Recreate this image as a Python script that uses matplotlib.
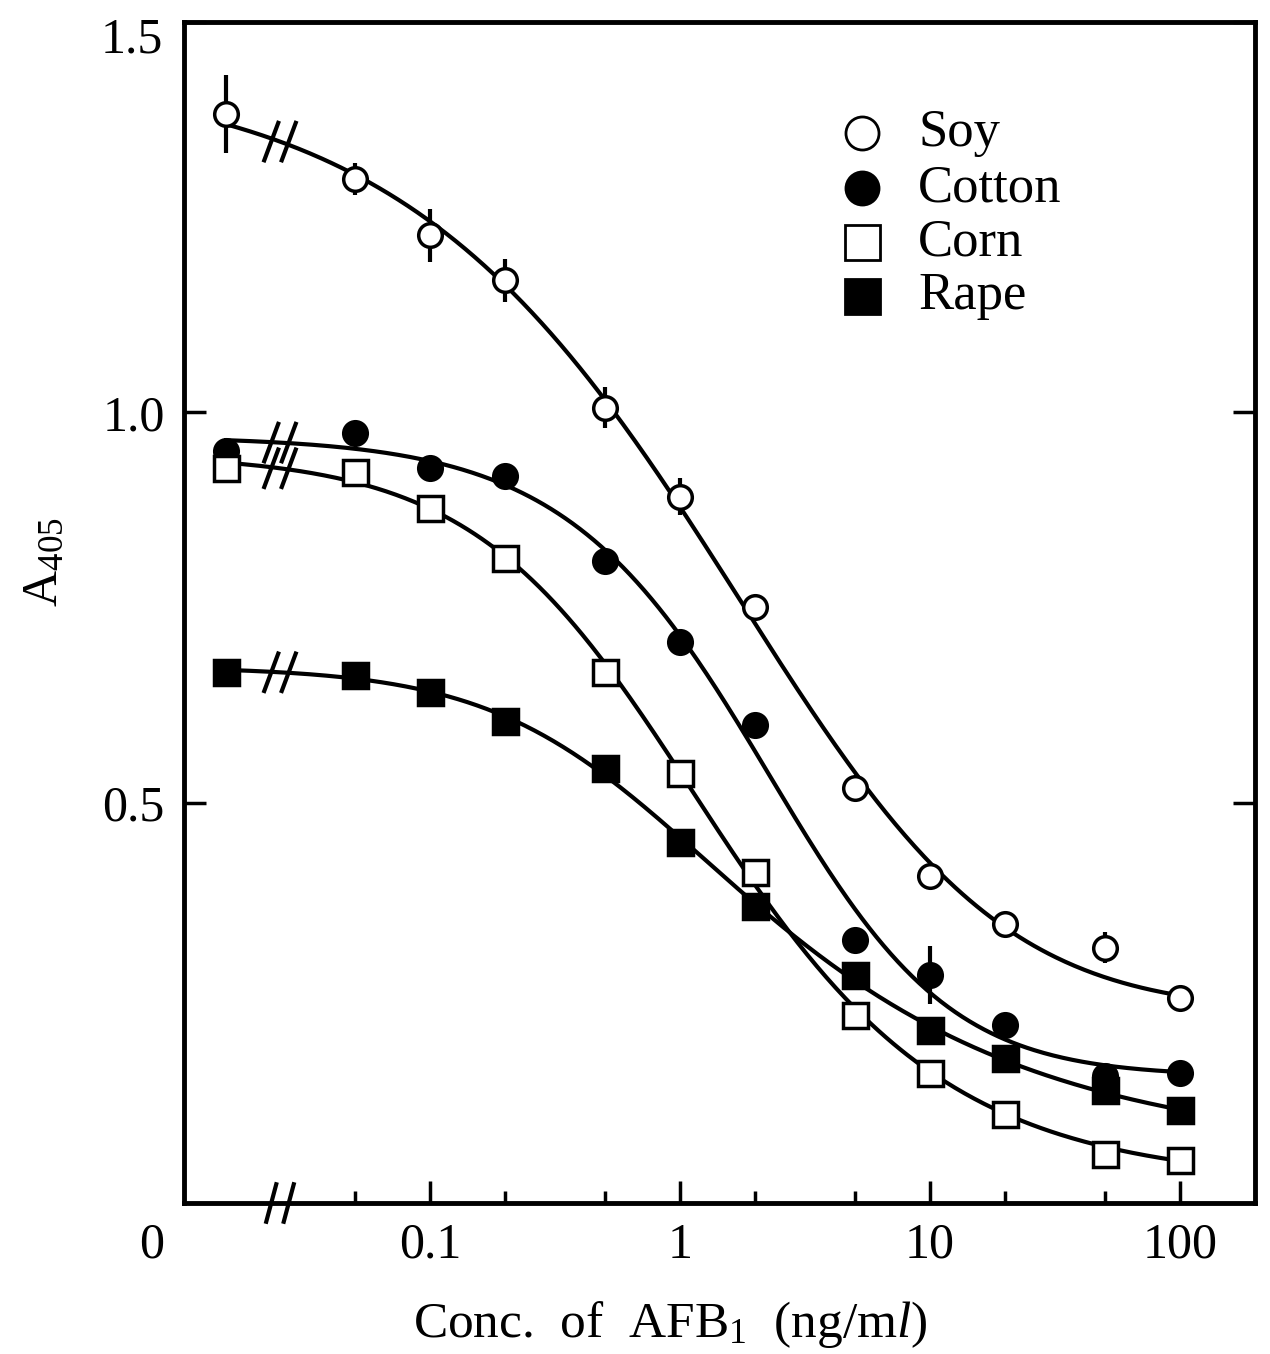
import numpy as np
import matplotlib
matplotlib.use("Agg")
import matplotlib.pyplot as plt

plt.rcParams['font.family'] = ['Liberation Serif', 'DejaVu Serif']
plt.rcParams['mathtext.fontset'] = 'custom'
plt.rcParams['mathtext.rm'] = 'Liberation Serif'
plt.rcParams['mathtext.it'] = 'Liberation Serif:italic'

# concentrations of AFB1 (ng/ml); 0 is drawn left of the axis break
conc = [0, 0.05, 0.1, 0.2, 0.5, 1, 2, 5, 10, 20, 50, 100]

soy = [1.382, 1.299, 1.227, 1.169, 1.006, 0.892, 0.750, 0.519, 0.406, 0.344, 0.314, 0.250]
soy_err = [0.05, 0.02, 0.034, 0.028, 0.026, 0.024, 0.015, 0, 0, 0, 0.02, 0]
cotton = [0.950, 0.973, 0.928, 0.919, 0.809, 0.706, 0.599, 0.324, 0.279, 0.215, 0.150, 0.154]
cotton_err = [0, 0, 0, 0, 0, 0, 0, 0, 0.037, 0, 0.012, 0]
corn = [0.928, 0.924, 0.877, 0.813, 0.667, 0.538, 0.411, 0.228, 0.154, 0.101, 0.050, 0.042]
corn_err = [0] * 12
rape = [0.667, 0.663, 0.642, 0.605, 0.544, 0.449, 0.368, 0.279, 0.208, 0.173, 0.132, 0.106]
rape_err = [0, 0, 0, 0, 0, 0, 0, 0, 0, 0, 0.015, 0]

ZERO_POS = -1.816   # where the "0" dose sits on the log axis
BREAK_POS = -1.6

lx = np.array([np.log10(c) if c > 0 else ZERO_POS for c in conc])


def fit_5pl(x, y, w):
    # y = d + (a-d) / (1 + exp(b(x-c)))**g ; grid over b,c,g, a/d by weighted least squares
    best = None
    for g in np.linspace(0.3, 3.0, 28):
        for b in np.linspace(0.5, 6.0, 45):
            for c in np.linspace(-1.5, 2.5, 81):
                s = 1.0 / (1.0 + np.exp(b * (x - c))) ** g
                A = np.column_stack([s, 1 - s])
                coef, *_ = np.linalg.lstsq(A * w[:, None], y * w, rcond=None)
                r = np.sum(((A @ coef - y) * w) ** 2)
                if best is None or r < best[0]:
                    best = (r, b, c, g, coef)
    _, b, c, g, (a, d) = best
    return lambda t: d + (a - d) / (1.0 + np.exp(b * (t - c))) ** g


fig = plt.figure(figsize=(12.7, 13.54), dpi=100)
ax = fig.add_axes([184/1270, 1 - 1203/1354, (1255-184)/1270, (1203-22)/1354])

ax.set_xlim(-1.984, 2.30)
ax.set_ylim(-0.013, 1.5)

series = [
    ("Soy", soy, soy_err, dict(marker='o', mfc='white', ms=17)),
    ("Cotton", cotton, cotton_err, dict(marker='o', mfc='black', ms=17)),
    ("Corn", corn, corn_err, dict(marker='s', mfc='white', ms=18)),
    ("Rape", rape, rape_err, dict(marker='s', mfc='black', ms=18)),
]

wts = np.ones(len(conc))
wts[-1] = 3.0   # curves end on the last point

xs = np.linspace(ZERO_POS, 2, 400)
for name, y, err, style in series:
    y = np.array(y)
    f = fit_5pl(lx, y, wts)
    ax.plot(xs, f(xs), color='black', lw=3, zorder=2)
    # break marks on the curve
    yb = f(BREAK_POS)
    for off in (-0.035, 0.035):
        ax.plot([BREAK_POS + off - 0.028, BREAK_POS + off + 0.028], [yb - 0.024, yb + 0.024],
                color='black', lw=3, zorder=3)
    e = np.array(err)
    m = e > 0
    ax.vlines(lx[m], y[m] - e[m], y[m] + e[m], color='black', lw=3, zorder=3)
    ax.plot(lx, y, ls='none', mec='black', mew=2.5, zorder=4, **style)

# break on the x axis
for off in (-0.035, 0.035):
    ax.plot([BREAK_POS + off - 0.02, BREAK_POS + off + 0.02], [-0.037, 0.011],
            color='black', lw=3, clip_on=False, zorder=5)

# ticks
ax.set_xticks([-1, 0, 1, 2])
ax.set_xticklabels(['0.1', '1', '10', '100'])
ax.set_xticks(np.log10([0.05, 0.2, 0.5, 2, 5, 20, 50]), minor=True)
ax.set_yticks([0.5, 1.0, 1.5])
ax.set_yticklabels(['0.5', '1.0', ''])
ax.tick_params(axis='both', which='major', direction='in', length=16, width=2.5,
               labelsize=36, pad=14)
ax.tick_params(axis='x', which='minor', direction='in', length=9, width=2.5)
ax.tick_params(axis='y', which='both', right=True)
for s in ax.spines.values():
    s.set_linewidth(3.5)

fig.text(163/1270, 1 - 40/1354, '1.5', fontsize=36, ha='right', va='center')
fig.text(152/1270, 1 - 1245/1354, '0', fontsize=36, ha='center', va='center')

fig.text(670/1270, 1 - 1325/1354, r'Conc.  of  AFB$_1$  (ng/m$\it{l}$)',
         fontsize=37, ha='center', va='center')
fig.text(45/1270, 1 - 562/1354, r'A$_{405}$', fontsize=36, rotation=90,
         ha='center', va='center')

# legend drawn by hand to keep the tight row spacing
ax_w, ax_h = 1255 - 184, 1203 - 22
rows = [133, 188, 242, 296]
for (name, y, err, style), ry in zip(series, rows):
    yf = 1 - (ry - 22) / ax_h
    st = dict(style)
    st['ms'] = st['ms'] * 1.4
    ax.plot([(862 - 184) / ax_w], [yf], ls='none', mec='black', mew=2,
            transform=ax.transAxes, **st)
    ax.text((918 - 184) / ax_w, yf, name, transform=ax.transAxes,
            fontsize=38, va='center', ha='left')

fig.savefig('out.png', dpi=100)
